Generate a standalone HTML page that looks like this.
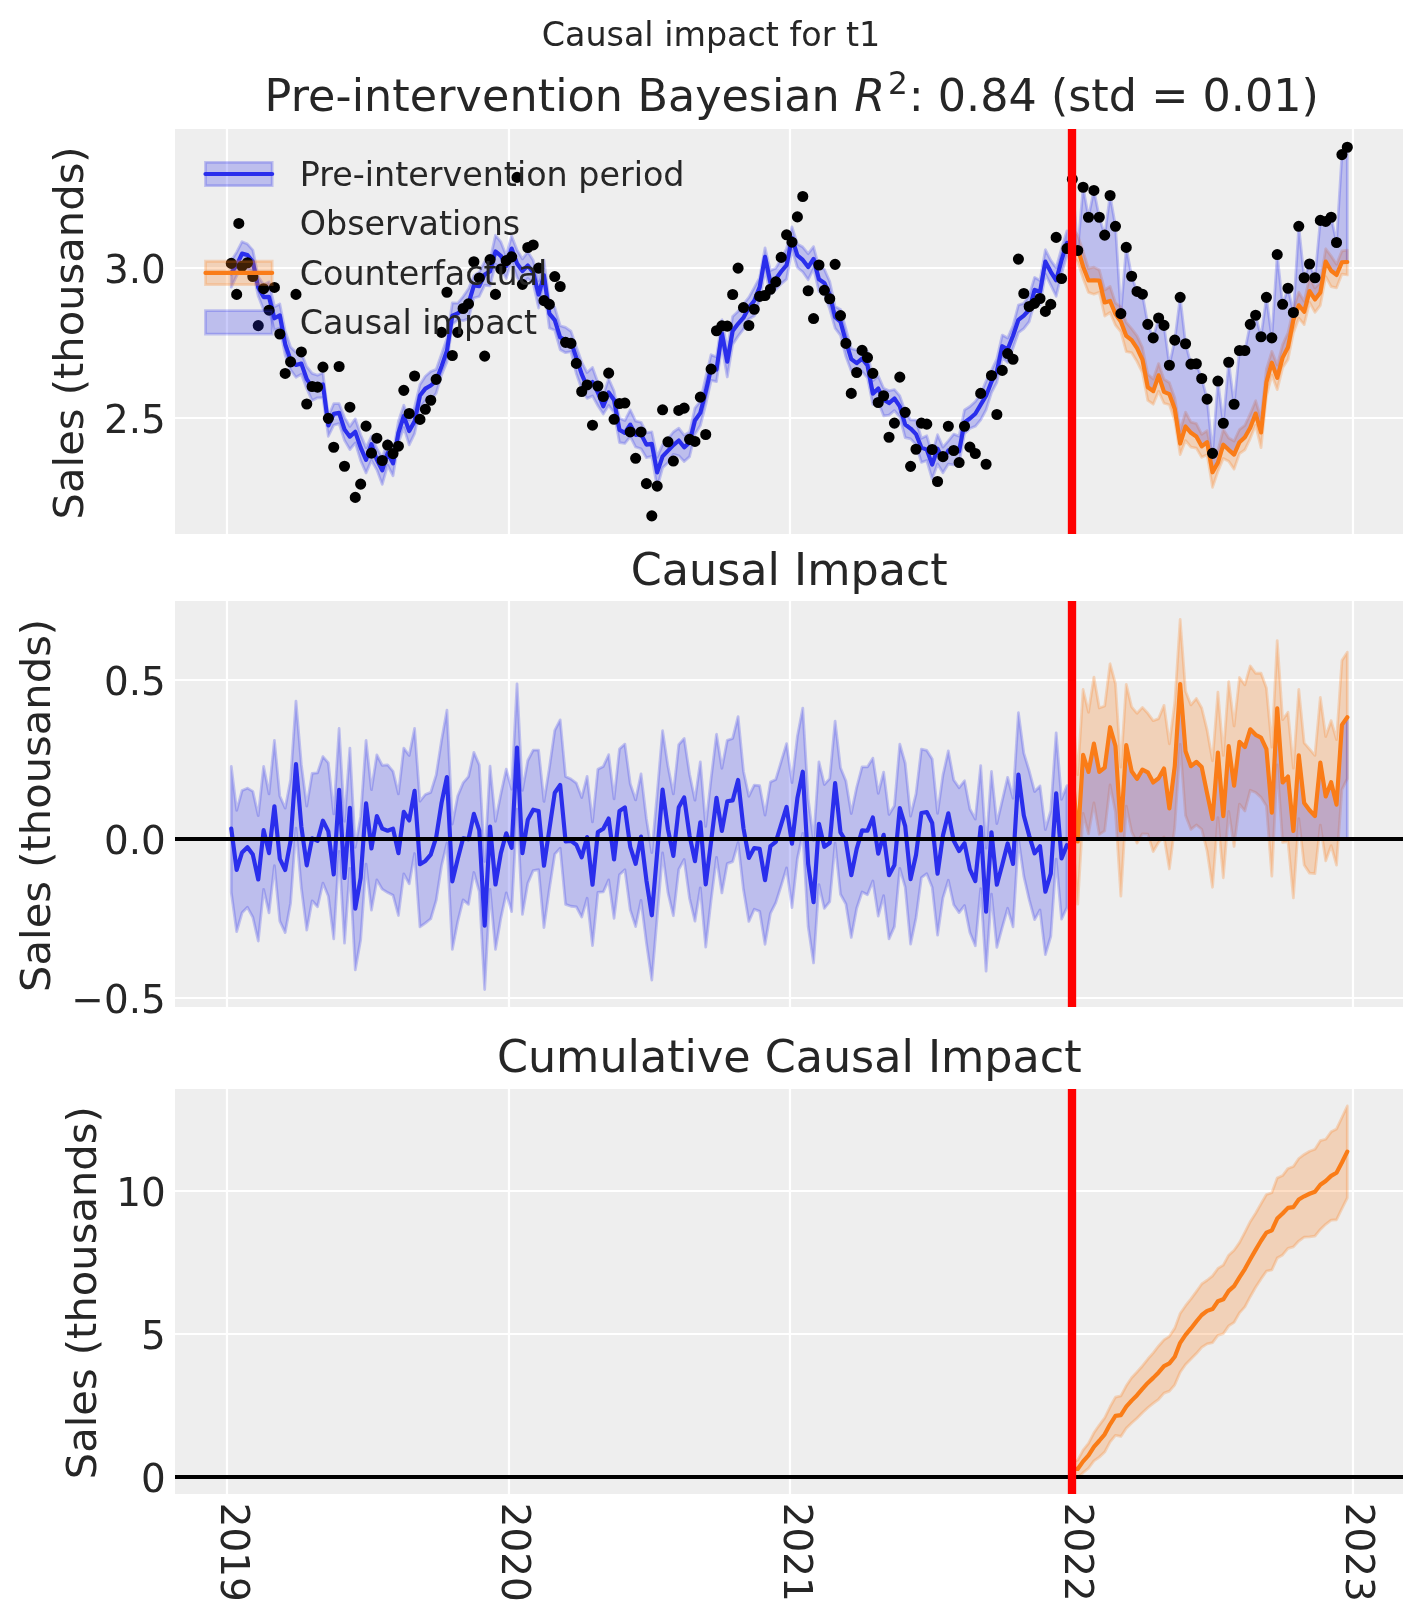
<!DOCTYPE html>
<html lang="en">
<head>
<meta charset="utf-8">
<title>Causal impact for t1</title>
<style>
html,body{margin:0;padding:0;background:#ffffff;}
body{width:1423px;height:1623px;overflow:hidden;font-family:"DejaVu Sans","Liberation Sans",sans-serif;}
svg{display:block;will-change:transform;transform:translateZ(0);}
</style>
</head>
<body>
<svg width="1423" height="1623" viewBox="0 0 512.28 584.28">
 <defs>
  <style type="text/css">svg *{stroke-linejoin: round; stroke-linecap: butt}</style>
 </defs>
 <g id="figure_1">
  <g id="patch_1">
   <path d="M 0 584.28 L 512.28 584.28 L 512.28 0 L 0 0 z" style="fill: #ffffff" />
  </g>
  <g id="axes_1">
   <g id="patch_2">
    <path d="M 63 192.24 L 505.08 192.24 L 505.08 46.44 L 63 46.44 z" style="fill: #eeeeee" />
   </g>
   <g id="matplotlib.axis_1">
    <g id="xtick_1">
     <g id="line2d_1">
      <path d="M 81.72 192.24 L 81.72 46.44" clip-path="url(#pec3af57a32)" style="fill: none; stroke: #ffffff; stroke-width: 0.8; stroke-linecap: round" />
     </g>
     <g id="line2d_2" />
    </g>
    <g id="xtick_2">
     <g id="line2d_3">
      <path d="M 183.24 192.24 L 183.24 46.44" clip-path="url(#pec3af57a32)" style="fill: none; stroke: #ffffff; stroke-width: 0.8; stroke-linecap: round" />
     </g>
     <g id="line2d_4" />
    </g>
    <g id="xtick_3">
     <g id="line2d_5">
      <path d="M 284.4 192.24 L 284.4 46.44" clip-path="url(#pec3af57a32)" style="fill: none; stroke: #ffffff; stroke-width: 0.8; stroke-linecap: round" />
     </g>
     <g id="line2d_6" />
    </g>
    <g id="xtick_4">
     <g id="line2d_7">
      <path d="M 385.92 192.24 L 385.92 46.44" clip-path="url(#pec3af57a32)" style="fill: none; stroke: #ffffff; stroke-width: 0.8; stroke-linecap: round" />
     </g>
     <g id="line2d_8" />
    </g>
    <g id="xtick_5">
     <g id="line2d_9">
      <path d="M 487.08 192.24 L 487.08 46.44" clip-path="url(#pec3af57a32)" style="fill: none; stroke: #ffffff; stroke-width: 0.8; stroke-linecap: round" />
     </g>
     <g id="line2d_10" />
    </g>
   </g>
   <g id="matplotlib.axis_2">
    <g id="ytick_1">
     <g id="line2d_11">
      <path d="M 63.1728 150.48 L 505.116 150.48" clip-path="url(#pec3af57a32)" style="fill: none; stroke: #ffffff; stroke-width: 0.8; stroke-linecap: round" />
     </g>
     <g id="line2d_12" />
     <g id="text_1">
      <text style="font-size: 14px; font-family: 'DejaVu Sans', sans-serif; text-anchor: end; fill: #262626" x="59.6728" y="155.798906">2.5</text>
     </g>
    </g>
    <g id="ytick_2">
     <g id="line2d_13">
      <path d="M 63.1728 96.48 L 505.116 96.48" clip-path="url(#pec3af57a32)" style="fill: none; stroke: #ffffff; stroke-width: 0.8; stroke-linecap: round" />
     </g>
     <g id="line2d_14" />
     <g id="text_2">
      <text style="font-size: 14px; font-family: 'DejaVu Sans', sans-serif; text-anchor: end; fill: #262626" x="59.6728" y="101.798906">3.0</text>
     </g>
    </g>
    <g id="text_3">
     <text style="font-size: 15px; font-family: 'DejaVu Sans', sans-serif; text-anchor: middle; fill: #262626" x="29.893" y="119.844" transform="rotate(-90 29.893 119.844)">Sales (thousands)</text>
    </g>
   </g>
   <g id="FillBetweenPolyCollection_1">
    <g clip-path="url(#pec3af57a32)">
     <path d="M 83.26 -490.44 L 83.26 -480.91 L 85.2 -484.98 L 87.14 -488.48 L 89.08 -487.43 L 91.02 -486.61 L 92.97 -477.68 L 94.91 -472.67 L 96.85 -472.87 L 98.79 -465.36 L 100.73 -466.23 L 102.67 -456.41 L 104.61 -451.1 L 106.55 -448.48 L 108.49 -449.53 L 110.43 -444.34 L 112.37 -440.08 L 114.32 -441.08 L 116.26 -441.12 L 118.2 -427.23 L 120.14 -431.22 L 122.08 -431.8 L 124.02 -425.76 L 125.96 -422.46 L 127.9 -424.84 L 129.84 -418.43 L 131.78 -414.03 L 133.72 -418.55 L 135.67 -415.13 L 137.61 -409.9 L 139.55 -416.79 L 141.49 -412.99 L 143.43 -424.88 L 145.37 -430.32 L 147.31 -424.13 L 149.25 -428.15 L 151.19 -437.33 L 153.13 -440.06 L 155.07 -440.24 L 157.02 -442.69 L 158.96 -449.31 L 160.9 -453.95 L 162.84 -467.45 L 164.78 -469.07 L 166.72 -468.83 L 168.66 -469.59 L 170.6 -477.01 L 172.54 -477.54 L 174.48 -481.59 L 176.42 -481.36 L 178.37 -489.16 L 180.31 -487.67 L 182.25 -484.04 L 184.19 -490.29 L 186.13 -484.39 L 188.07 -481.84 L 190.01 -484.03 L 191.95 -482.32 L 193.89 -473.39 L 195.83 -481.1 L 197.77 -466.19 L 199.72 -465.36 L 201.66 -458.4 L 203.6 -457.32 L 205.54 -457.66 L 207.48 -449.76 L 209.42 -444.13 L 211.36 -440.86 L 213.3 -441.74 L 215.24 -438.21 L 217.18 -435.21 L 219.12 -438.34 L 221.06 -435.81 L 223.01 -424.94 L 224.95 -424.63 L 226.89 -427.1 L 228.83 -423.35 L 230.77 -422.72 L 232.71 -419.51 L 234.65 -419.99 L 236.59 -408.72 L 238.53 -415.85 L 240.47 -417.7 L 242.41 -420.71 L 244.36 -420.19 L 246.3 -418.12 L 248.24 -419.89 L 250.18 -427.94 L 252.12 -431.07 L 254.06 -438.62 L 256 -447.34 L 257.94 -446.88 L 259.88 -459.7 L 261.82 -448.58 L 263.76 -460.3 L 265.71 -463.24 L 267.65 -465.78 L 269.59 -469.46 L 271.53 -470.49 L 273.47 -476.12 L 275.41 -487.3 L 277.35 -478.32 L 279.29 -480.04 L 281.23 -482.08 L 283.17 -483.79 L 285.11 -494.41 L 287.06 -487.99 L 289 -486.35 L 290.94 -483.57 L 292.88 -487.61 L 294.82 -479.37 L 296.76 -478.47 L 298.7 -473.02 L 300.64 -466.13 L 302.58 -463.57 L 304.52 -455.92 L 306.46 -450.67 L 308.41 -449.42 L 310.35 -450.58 L 312.29 -448.27 L 314.23 -438.7 L 316.17 -439.6 L 318.11 -434.58 L 320.05 -434.85 L 321.99 -436.46 L 323.93 -434.15 L 325.87 -426.75 L 327.81 -426.3 L 329.76 -424.23 L 331.7 -417.81 L 333.64 -418.49 L 335.58 -411.82 L 337.52 -417.25 L 339.46 -414.07 L 341.4 -417.22 L 343.34 -416.93 L 345.28 -417.47 L 347.22 -428.13 L 349.16 -429.99 L 351.11 -430.82 L 353.05 -433.11 L 354.99 -436.73 L 356.93 -442.92 L 358.87 -446.66 L 360.81 -455.49 L 362.75 -453.81 L 364.69 -459.03 L 366.63 -464.52 L 368.57 -465.99 L 370.51 -468.47 L 372.46 -475.46 L 374.4 -474.61 L 376.34 -485.63 L 378.28 -481.6 L 380.22 -477.64 L 382.16 -485.72 L 384.1 -492.34 L 384.1 -501.18 L 384.1 -501.18 L 382.16 -494.86 L 380.22 -487.86 L 378.28 -490.56 L 376.34 -494.37 L 374.4 -483.29 L 372.46 -484.44 L 370.51 -477.91 L 368.57 -475.08 L 366.63 -474.48 L 364.69 -467.07 L 362.75 -462.6 L 360.81 -463.65 L 358.87 -455.07 L 356.93 -450.96 L 354.99 -447.07 L 353.05 -442.44 L 351.11 -439.74 L 349.16 -437.93 L 347.22 -436.7 L 345.28 -427.27 L 343.34 -428 L 341.4 -425.58 L 339.46 -423.32 L 337.52 -427.75 L 335.58 -420.97 L 333.64 -427.4 L 331.7 -426.51 L 329.76 -433.06 L 327.81 -433.12 L 325.87 -436.19 L 323.93 -441.74 L 321.99 -444.04 L 320.05 -443.61 L 318.11 -444.5 L 316.17 -448.96 L 314.23 -447.19 L 312.29 -457.89 L 310.35 -459.15 L 308.41 -458.2 L 306.46 -458.79 L 304.52 -465.93 L 302.58 -472.89 L 300.64 -473.96 L 298.7 -482.93 L 296.76 -487.37 L 294.82 -488.09 L 292.88 -495.47 L 290.94 -492.96 L 289 -495.34 L 287.06 -496.44 L 285.11 -502.62 L 283.17 -494.81 L 281.23 -491.14 L 279.29 -487.74 L 277.35 -486.9 L 275.41 -495.03 L 273.47 -484.35 L 271.53 -480.75 L 269.59 -477.21 L 267.65 -474.78 L 265.71 -472.2 L 263.76 -470.34 L 261.82 -458.34 L 259.88 -469.16 L 257.94 -455.73 L 256 -456.6 L 254.06 -448.51 L 252.12 -439.85 L 250.18 -437.37 L 248.24 -428.76 L 246.3 -427.62 L 244.36 -430.13 L 242.41 -428.76 L 240.47 -426.25 L 238.53 -424.21 L 236.59 -419.7 L 234.65 -428.82 L 232.71 -428.48 L 230.77 -432.27 L 228.83 -432.68 L 226.89 -436.74 L 224.95 -432.87 L 223.01 -433.7 L 221.06 -443.48 L 219.12 -447.92 L 217.18 -442 L 215.24 -446.6 L 213.3 -451.98 L 211.36 -450.14 L 209.42 -453.95 L 207.48 -459.5 L 205.54 -465.03 L 203.6 -466.4 L 201.66 -467.01 L 199.72 -473.66 L 197.77 -475.46 L 195.83 -490.59 L 193.89 -483.16 L 191.95 -490.6 L 190.01 -493.61 L 188.07 -491.08 L 186.13 -494.29 L 184.19 -499.36 L 182.25 -492.23 L 180.31 -497.19 L 178.37 -499.56 L 176.42 -490.68 L 174.48 -490.06 L 172.54 -486.34 L 170.6 -485.04 L 168.66 -480.33 L 166.72 -477.53 L 164.78 -475.17 L 162.84 -475.22 L 160.9 -462.57 L 158.96 -456.82 L 157.02 -451.3 L 155.07 -450.56 L 153.13 -448.85 L 151.19 -445.85 L 149.25 -437.78 L 147.31 -433.08 L 145.37 -438.39 L 143.43 -432.63 L 141.49 -420.99 L 139.55 -425.81 L 137.61 -419.44 L 135.67 -422.88 L 133.72 -427.23 L 131.78 -423.13 L 129.84 -427.76 L 127.9 -433.51 L 125.96 -430.77 L 124.02 -434.03 L 122.08 -438.96 L 120.14 -438.96 L 118.2 -434.35 L 116.26 -450.08 L 114.32 -449.17 L 112.37 -449.86 L 110.43 -452.26 L 108.49 -457.3 L 106.55 -457.44 L 104.61 -459.35 L 102.67 -465.17 L 100.73 -474.85 L 98.79 -473.88 L 96.85 -482.77 L 94.91 -481.88 L 92.97 -484.67 L 91.02 -494.25 L 89.08 -496.4 L 87.14 -497.29 L 85.2 -493.51 L 83.26 -490.44 z" transform="translate(0 584.28)" style="fill: #2a2eec; fill-opacity: 0.25; stroke: #2a2eec; stroke-opacity: 0.25" />
    </g>
   </g>
   <g id="FillBetweenPolyCollection_2">
    <g clip-path="url(#pec3af57a32)">
     <path d="M 386.04 -502.13 L 386.04 -492.01 L 387.98 -490.05 L 389.92 -484.03 L 391.86 -479.01 L 393.81 -478.35 L 395.75 -479.03 L 397.69 -470.5 L 399.63 -471.78 L 401.57 -467.2 L 403.51 -464.83 L 405.45 -457.66 L 407.39 -457.32 L 409.33 -454.13 L 411.27 -450.14 L 413.21 -440.12 L 415.16 -438.76 L 417.1 -443.45 L 419.04 -439.1 L 420.98 -438.56 L 422.92 -432.91 L 424.86 -420.64 L 426.8 -425.66 L 428.74 -423.34 L 430.68 -422.95 L 432.62 -419.66 L 434.56 -420.61 L 436.51 -408.82 L 438.45 -414.58 L 440.39 -419.21 L 442.33 -418.24 L 444.27 -415.39 L 446.21 -420.99 L 448.15 -422.35 L 450.09 -426.41 L 452.03 -431.25 L 453.97 -423.16 L 455.91 -441.6 L 457.86 -449.24 L 459.8 -444.03 L 461.74 -451.87 L 463.68 -454.83 L 465.62 -464.38 L 467.56 -469.74 L 469.5 -467.41 L 471.44 -475.41 L 473.38 -471.84 L 475.32 -474.35 L 477.26 -484.71 L 479.21 -481.12 L 481.15 -480.68 L 483.09 -485.61 L 485.03 -485.31 L 485.03 -494.23 L 485.03 -494.23 L 483.09 -493.96 L 481.15 -489.14 L 479.21 -492.08 L 477.26 -494.73 L 475.32 -482.71 L 473.38 -480.58 L 471.44 -484.51 L 469.5 -475.79 L 467.56 -479.04 L 465.62 -473.23 L 463.68 -464.49 L 461.74 -460.24 L 459.8 -452.86 L 457.86 -457.8 L 455.91 -451.38 L 453.97 -433.6 L 452.03 -440 L 450.09 -435.27 L 448.15 -431.15 L 446.21 -429.65 L 444.27 -425.52 L 442.33 -426.6 L 440.39 -429.67 L 438.45 -422.13 L 436.51 -419.4 L 434.56 -429.25 L 432.62 -427.92 L 430.68 -431.79 L 428.74 -432.32 L 426.8 -435.9 L 424.86 -429.25 L 422.92 -441.03 L 420.98 -446.53 L 419.04 -447.73 L 417.1 -453.4 L 415.16 -447.85 L 413.21 -449.54 L 411.27 -459.24 L 409.33 -463.35 L 407.39 -465.95 L 405.45 -468.21 L 403.51 -473.78 L 401.57 -475.23 L 399.63 -481.15 L 397.69 -479.89 L 395.75 -487.08 L 393.81 -488.11 L 391.86 -487.63 L 389.92 -493.81 L 387.98 -499.52 L 386.04 -502.13 z" transform="translate(0 584.28)" style="fill: #fa7c17; fill-opacity: 0.25; stroke: #fa7c17; stroke-opacity: 0.25" />
    </g>
   </g>
   <g id="FillBetweenPolyCollection_3">
    <g clip-path="url(#pec3af57a32)">
     <path d="M 386.04 -519.74 L 386.04 -496.08 L 387.98 -494.93 L 389.92 -488.28 L 391.86 -483.3 L 393.81 -483.34 L 395.75 -483.3 L 397.69 -475.41 L 399.63 -475.94 L 401.57 -471.23 L 403.51 -468.52 L 405.45 -463.35 L 407.39 -461.83 L 409.33 -458.94 L 411.27 -454.81 L 413.21 -444.88 L 415.16 -443.46 L 417.1 -449.16 L 419.04 -443.21 L 420.98 -442.4 L 422.92 -437.04 L 424.86 -424.6 L 426.8 -430.74 L 428.74 -428.46 L 430.68 -427.11 L 432.62 -423.59 L 434.56 -425.1 L 436.51 -414.26 L 438.45 -417.73 L 440.39 -424.18 L 442.33 -422.34 L 444.27 -420.63 L 446.21 -425.09 L 448.15 -426.88 L 450.09 -430.28 L 452.03 -435.4 L 453.97 -428.59 L 455.91 -446.72 L 457.86 -453.7 L 459.8 -448.24 L 461.74 -455.53 L 463.68 -459.29 L 465.62 -469.04 L 467.56 -474.38 L 469.5 -472.04 L 471.44 -479.48 L 473.38 -476.48 L 475.32 -479.01 L 477.26 -490.09 L 479.21 -486.81 L 481.15 -485.29 L 483.09 -489.87 L 485.03 -489.95 L 485.03 -531.28 L 485.03 -531.28 L 483.09 -528.62 L 481.15 -496.97 L 479.21 -506.08 L 477.26 -504.56 L 475.32 -504.94 L 473.38 -484.29 L 471.44 -489.23 L 469.5 -484.29 L 467.56 -502.81 L 465.62 -471.77 L 463.68 -480.5 L 461.74 -474.73 L 459.8 -492.64 L 457.86 -462.66 L 455.91 -477.24 L 453.97 -463.04 L 452.03 -470.78 L 450.09 -467.52 L 448.15 -458.11 L 446.21 -458.11 L 444.27 -438.75 L 442.33 -453.86 L 440.39 -431.92 L 438.45 -447.1 L 436.51 -421.07 L 434.56 -440.58 L 432.62 -448.01 L 430.68 -453.33 L 428.74 -453.18 L 426.8 -460.54 L 424.86 -477.24 L 422.92 -461.83 L 420.98 -452.8 L 419.04 -467.14 L 417.1 -469.8 L 415.16 -462.66 L 413.21 -467.52 L 411.27 -478.37 L 409.33 -479.36 L 407.39 -484.83 L 405.45 -495.22 L 403.51 -471.39 L 401.57 -502.81 L 399.63 -513.9 L 397.69 -499.63 L 395.75 -506.08 L 393.81 -515.72 L 391.86 -506.08 L 389.92 -516.86 L 387.98 -494.09 L 386.04 -519.74 z" transform="translate(0 584.28)" style="fill: #2a2eec; fill-opacity: 0.25; stroke: #2a2eec; stroke-opacity: 0.25" />
    </g>
   </g>
   <g id="line2d_15">
    <path d="M 83.26 98.34 L 85.2 95.46 L 87.14 91.31 L 89.08 91.81 L 91.02 94.24 L 92.97 103.47 L 94.91 106.94 L 96.85 106.88 L 98.79 114.58 L 100.73 113.52 L 102.67 123.92 L 104.61 129.66 L 106.55 131.41 L 108.49 130.88 L 110.43 136.5 L 112.37 139.37 L 114.32 138.74 L 116.26 138.4 L 118.2 153.19 L 120.14 148.98 L 122.08 148.63 L 124.02 154.6 L 125.96 157.19 L 127.9 155.45 L 129.84 161.12 L 131.78 165.53 L 133.72 159.92 L 135.67 165.56 L 137.61 169.3 L 139.55 163.05 L 141.49 166.8 L 143.43 155.84 L 145.37 149.76 L 147.31 155.17 L 149.25 151.69 L 151.19 142.4 L 153.13 139.9 L 155.07 138.79 L 157.02 137.1 L 158.96 131.89 L 160.9 126.28 L 162.84 113.6 L 164.78 112.81 L 166.72 111.29 L 168.66 109.33 L 170.6 102.74 L 172.54 103 L 174.48 98.8 L 176.42 97.69 L 178.37 90.52 L 180.31 92.08 L 182.25 95.77 L 184.19 89.47 L 186.13 94.87 L 188.07 97.58 L 190.01 95.61 L 191.95 98.13 L 193.89 106.05 L 195.83 99.13 L 197.77 112.88 L 199.72 115.25 L 201.66 121.46 L 203.6 122.46 L 205.54 122.98 L 209.42 134.7 L 211.36 139.22 L 213.3 137.54 L 215.24 141.32 L 217.18 146.26 L 219.12 141.28 L 221.06 144.01 L 223.01 154.78 L 224.95 155.85 L 226.89 152.86 L 228.83 156.54 L 230.77 156.29 L 232.71 160.06 L 234.65 159.79 L 236.59 170.07 L 238.53 164.29 L 242.41 160.25 L 244.36 158.58 L 246.3 161.04 L 248.24 159.3 L 250.18 151.4 L 252.12 148.64 L 254.06 141.02 L 256 132.6 L 257.94 133.04 L 259.88 120.05 L 261.82 130.22 L 263.76 119.12 L 265.71 116.58 L 267.65 114.38 L 269.59 110.73 L 271.53 108.25 L 273.47 103.34 L 275.41 92.43 L 277.35 101.69 L 279.29 100.46 L 281.23 97.74 L 283.17 95.42 L 285.11 85.62 L 287.06 91.94 L 289 93.58 L 290.94 96.14 L 292.88 93.2 L 294.82 100.56 L 296.76 101.86 L 298.7 106.19 L 300.64 114.15 L 302.58 115.84 L 304.52 122.88 L 306.46 129.31 L 308.41 130.75 L 310.35 129.08 L 312.29 131.52 L 314.23 141.72 L 316.17 139.88 L 318.11 143.89 L 320.05 145.1 L 321.99 143.45 L 323.93 146.31 L 325.87 152.83 L 327.81 154.28 L 329.76 156.27 L 331.7 161.14 L 333.64 161.87 L 335.58 167.26 L 337.52 161.54 L 339.46 165.54 L 341.4 162.2 L 343.34 161.58 L 345.28 162.44 L 347.22 152.04 L 349.16 150.67 L 351.11 148.94 L 354.99 142.43 L 356.93 137.47 L 358.87 133.68 L 360.81 124.62 L 362.75 125.78 L 364.69 120.88 L 366.63 115.12 L 368.57 113.6 L 370.51 111.5 L 372.46 104.35 L 374.4 105.04 L 376.34 94.2 L 378.28 97.85 L 380.22 100.93 L 382.16 93.67 L 384.1 87.41 L 384.1 87.41" clip-path="url(#pec3af57a32)" style="fill: none; stroke: #2a2eec; stroke-width: 1.5; stroke-linecap: round" />
   </g>
   <g id="line2d_16">
    <g clip-path="url(#pec3af57a32)" style="fill:#000;stroke:#000;stroke-width:1">
     <circle cx="83.26" cy="94.82" r="1.5" />
     <circle cx="85.2" cy="105.98" r="1.5" />
     <circle cx="87.14" cy="95.89" r="1.5" />
     <circle cx="89.08" cy="94.6" r="1.5" />
     <circle cx="91.02" cy="99.53" r="1.5" />
     <circle cx="92.97" cy="117.22" r="1.5" />
     <circle cx="94.91" cy="103.93" r="1.5" />
     <circle cx="96.85" cy="111.67" r="1.5" />
     <circle cx="98.79" cy="103.48" r="1.5" />
     <circle cx="100.73" cy="120.25" r="1.5" />
     <circle cx="102.67" cy="134.44" r="1.5" />
     <circle cx="104.61" cy="130.27" r="1.5" />
     <circle cx="106.55" cy="105.98" r="1.5" />
     <circle cx="108.49" cy="126.7" r="1.5" />
     <circle cx="110.43" cy="145.45" r="1.5" />
     <circle cx="112.37" cy="139.15" r="1.5" />
     <circle cx="114.32" cy="139.38" r="1.5" />
     <circle cx="116.26" cy="132.17" r="1.5" />
     <circle cx="118.2" cy="150.61" r="1.5" />
     <circle cx="120.14" cy="161.01" r="1.5" />
     <circle cx="122.08" cy="131.94" r="1.5" />
     <circle cx="124.02" cy="167.84" r="1.5" />
     <circle cx="125.96" cy="146.59" r="1.5" />
     <circle cx="127.9" cy="179.07" r="1.5" />
     <circle cx="129.84" cy="174.29" r="1.5" />
     <circle cx="131.78" cy="153.42" r="1.5" />
     <circle cx="133.72" cy="163.14" r="1.5" />
     <circle cx="135.67" cy="157.75" r="1.5" />
     <circle cx="137.61" cy="165.79" r="1.5" />
     <circle cx="139.55" cy="160.25" r="1.5" />
     <circle cx="141.49" cy="163.29" r="1.5" />
     <circle cx="143.43" cy="160.63" r="1.5" />
     <circle cx="145.37" cy="140.52" r="1.5" />
     <circle cx="147.31" cy="148.87" r="1.5" />
     <circle cx="149.25" cy="135.36" r="1.5" />
     <circle cx="151.19" cy="150.99" r="1.5" />
     <circle cx="153.13" cy="147.35" r="1.5" />
     <circle cx="155.07" cy="144.08" r="1.5" />
     <circle cx="157.02" cy="136.57" r="1.5" />
     <circle cx="158.96" cy="119.64" r="1.5" />
     <circle cx="160.9" cy="105.22" r="1.5" />
     <circle cx="162.84" cy="127.99" r="1.5" />
     <circle cx="164.78" cy="119.64" r="1.5" />
     <circle cx="166.72" cy="111.07" r="1.5" />
     <circle cx="168.66" cy="109.4" r="1.5" />
     <circle cx="170.6" cy="94.22" r="1.5" />
     <circle cx="172.54" cy="100.06" r="1.5" />
     <circle cx="174.48" cy="128.22" r="1.5" />
     <circle cx="176.42" cy="93.46" r="1.5" />
     <circle cx="178.37" cy="105.98" r="1.5" />
     <circle cx="180.31" cy="96.87" r="1.5" />
     <circle cx="182.25" cy="93.84" r="1.5" />
     <circle cx="184.19" cy="92.47" r="1.5" />
     <circle cx="186.13" cy="63.86" r="1.5" />
     <circle cx="188.07" cy="102.37" r="1.5" />
     <circle cx="190.01" cy="89.09" r="1.5" />
     <circle cx="191.95" cy="88.18" r="1.5" />
     <circle cx="193.89" cy="96.53" r="1.5" />
     <circle cx="195.83" cy="108.22" r="1.5" />
     <circle cx="197.77" cy="109.58" r="1.5" />
     <circle cx="199.72" cy="99.56" r="1.5" />
     <circle cx="201.66" cy="103.13" r="1.5" />
     <circle cx="203.6" cy="123.24" r="1.5" />
     <circle cx="205.54" cy="123.62" r="1.5" />
     <circle cx="207.48" cy="130.83" r="1.5" />
     <circle cx="209.42" cy="140.93" r="1.5" />
     <circle cx="211.36" cy="138.58" r="1.5" />
     <circle cx="213.3" cy="153.07" r="1.5" />
     <circle cx="215.24" cy="138.96" r="1.5" />
     <circle cx="217.18" cy="142.75" r="1.5" />
     <circle cx="219.12" cy="134.33" r="1.5" />
     <circle cx="221.06" cy="150.95" r="1.5" />
     <circle cx="223.01" cy="145.26" r="1.5" />
     <circle cx="224.95" cy="145.1" r="1.5" />
     <circle cx="226.89" cy="155.5" r="1.5" />
     <circle cx="228.83" cy="164.99" r="1.5" />
     <circle cx="230.77" cy="155.5" r="1.5" />
     <circle cx="232.71" cy="174.1" r="1.5" />
     <circle cx="234.65" cy="185.71" r="1.5" />
     <circle cx="236.59" cy="175.01" r="1.5" />
     <circle cx="238.53" cy="147.53" r="1.5" />
     <circle cx="240.47" cy="159.07" r="1.5" />
     <circle cx="242.41" cy="165.98" r="1.5" />
     <circle cx="244.36" cy="147.76" r="1.5" />
     <circle cx="246.3" cy="146.93" r="1.5" />
     <circle cx="248.24" cy="158.16" r="1.5" />
     <circle cx="250.18" cy="158.92" r="1.5" />
     <circle cx="252.12" cy="142.98" r="1.5" />
     <circle cx="254.06" cy="156.41" r="1.5" />
     <circle cx="256" cy="132.88" r="1.5" />
     <circle cx="257.94" cy="119.07" r="1.5" />
     <circle cx="259.88" cy="117.32" r="1.5" />
     <circle cx="261.82" cy="117.4" r="1.5" />
     <circle cx="263.76" cy="106.01" r="1.5" />
     <circle cx="265.71" cy="96.53" r="1.5" />
     <circle cx="267.65" cy="110.72" r="1.5" />
     <circle cx="269.59" cy="117.17" r="1.5" />
     <circle cx="271.53" cy="111.33" r="1.5" />
     <circle cx="273.47" cy="106.7" r="1.5" />
     <circle cx="275.41" cy="106.39" r="1.5" />
     <circle cx="277.35" cy="104.12" r="1.5" />
     <circle cx="279.29" cy="101.46" r="1.5" />
     <circle cx="281.23" cy="92.66" r="1.5" />
     <circle cx="283.17" cy="84.53" r="1.5" />
     <circle cx="285.11" cy="87.19" r="1.5" />
     <circle cx="287.06" cy="78.08" r="1.5" />
     <circle cx="289" cy="70.73" r="1.5" />
     <circle cx="290.94" cy="104.66" r="1.5" />
     <circle cx="292.88" cy="114.68" r="1.5" />
     <circle cx="294.82" cy="95.4" r="1.5" />
     <circle cx="296.76" cy="104.51" r="1.5" />
     <circle cx="298.7" cy="107.54" r="1.5" />
     <circle cx="300.64" cy="95.17" r="1.5" />
     <circle cx="302.58" cy="113.62" r="1.5" />
     <circle cx="304.52" cy="123.63" r="1.5" />
     <circle cx="306.46" cy="141.62" r="1.5" />
     <circle cx="308.41" cy="134.11" r="1.5" />
     <circle cx="310.35" cy="126.14" r="1.5" />
     <circle cx="312.29" cy="128.72" r="1.5" />
     <circle cx="314.23" cy="134.41" r="1.5" />
     <circle cx="316.17" cy="144.89" r="1.5" />
     <circle cx="318.11" cy="142.46" r="1.5" />
     <circle cx="320.05" cy="157.41" r="1.5" />
     <circle cx="321.99" cy="152.32" r="1.5" />
     <circle cx="323.93" cy="135.78" r="1.5" />
     <circle cx="325.87" cy="148.45" r="1.5" />
     <circle cx="327.81" cy="167.88" r="1.5" />
     <circle cx="329.76" cy="161.74" r="1.5" />
     <circle cx="331.7" cy="152.32" r="1.5" />
     <circle cx="333.64" cy="152.7" r="1.5" />
     <circle cx="335.58" cy="161.81" r="1.5" />
     <circle cx="337.52" cy="173.35" r="1.5" />
     <circle cx="339.46" cy="164.39" r="1.5" />
     <circle cx="341.4" cy="153.46" r="1.5" />
     <circle cx="343.34" cy="162.19" r="1.5" />
     <circle cx="345.28" cy="166.52" r="1.5" />
     <circle cx="347.22" cy="153.46" r="1.5" />
     <circle cx="349.16" cy="160.98" r="1.5" />
     <circle cx="351.11" cy="163.25" r="1.5" />
     <circle cx="353.05" cy="141.62" r="1.5" />
     <circle cx="354.99" cy="167.13" r="1.5" />
     <circle cx="356.93" cy="135.17" r="1.5" />
     <circle cx="358.87" cy="149.21" r="1.5" />
     <circle cx="360.81" cy="133.35" r="1.5" />
     <circle cx="362.75" cy="127.28" r="1.5" />
     <circle cx="364.69" cy="129.33" r="1.5" />
     <circle cx="366.63" cy="93.27" r="1.5" />
     <circle cx="368.57" cy="105.65" r="1.5" />
     <circle cx="370.51" cy="110.35" r="1.5" />
     <circle cx="372.46" cy="109.21" r="1.5" />
     <circle cx="374.4" cy="107.47" r="1.5" />
     <circle cx="376.34" cy="112.1" r="1.5" />
     <circle cx="378.28" cy="109.59" r="1.5" />
     <circle cx="380.22" cy="85.46" r="1.5" />
     <circle cx="382.16" cy="100.26" r="1.5" />
     <circle cx="384.1" cy="89.48" r="1.5" />
    </g>
   </g>
   <g id="line2d_17">
    <path d="M 386.04 88.2 L 387.98 89.35 L 389.92 96 L 391.86 100.98 L 393.81 100.94 L 395.75 100.98 L 397.69 108.87 L 399.63 108.34 L 401.57 113.05 L 403.51 115.76 L 405.45 120.93 L 407.39 122.45 L 409.33 125.34 L 411.27 129.47 L 413.21 139.4 L 415.16 140.82 L 417.1 135.12 L 419.04 141.07 L 420.98 141.88 L 422.92 147.24 L 424.86 159.68 L 426.8 153.54 L 428.74 155.82 L 430.68 157.17 L 432.62 160.69 L 434.56 159.18 L 436.51 170.02 L 438.45 166.55 L 440.39 160.1 L 442.33 161.94 L 444.27 163.65 L 446.21 159.19 L 448.15 157.4 L 450.09 154 L 452.03 148.88 L 453.97 155.69 L 455.91 137.56 L 457.86 130.58 L 459.8 136.04 L 461.74 128.75 L 463.68 124.99 L 465.62 115.24 L 467.56 109.9 L 469.5 112.24 L 471.44 104.8 L 473.38 107.8 L 475.32 105.27 L 477.26 94.19 L 479.21 97.47 L 481.15 98.99 L 483.09 94.41 L 485.03 94.33" clip-path="url(#pec3af57a32)" style="fill: none; stroke: #fa7c17; stroke-width: 1.5; stroke-linecap: round" />
   </g>
   <g id="line2d_18">
    <g clip-path="url(#pec3af57a32)" style="fill:#000;stroke:#000;stroke-width:1">
     <circle cx="386.04" cy="64.54" r="1.5" />
     <circle cx="387.98" cy="90.19" r="1.5" />
     <circle cx="389.92" cy="67.42" r="1.5" />
     <circle cx="391.86" cy="78.2" r="1.5" />
     <circle cx="393.81" cy="68.56" r="1.5" />
     <circle cx="395.75" cy="78.2" r="1.5" />
     <circle cx="397.69" cy="84.65" r="1.5" />
     <circle cx="399.63" cy="70.38" r="1.5" />
     <circle cx="401.57" cy="81.47" r="1.5" />
     <circle cx="403.51" cy="112.89" r="1.5" />
     <circle cx="405.45" cy="89.06" r="1.5" />
     <circle cx="407.39" cy="99.45" r="1.5" />
     <circle cx="409.33" cy="104.92" r="1.5" />
     <circle cx="411.27" cy="105.91" r="1.5" />
     <circle cx="413.21" cy="116.76" r="1.5" />
     <circle cx="415.16" cy="121.62" r="1.5" />
     <circle cx="417.1" cy="114.48" r="1.5" />
     <circle cx="419.04" cy="117.14" r="1.5" />
     <circle cx="420.98" cy="131.48" r="1.5" />
     <circle cx="422.92" cy="122.45" r="1.5" />
     <circle cx="424.86" cy="107.04" r="1.5" />
     <circle cx="426.8" cy="123.74" r="1.5" />
     <circle cx="428.74" cy="131.1" r="1.5" />
     <circle cx="430.68" cy="130.95" r="1.5" />
     <circle cx="432.62" cy="136.27" r="1.5" />
     <circle cx="434.56" cy="143.7" r="1.5" />
     <circle cx="436.51" cy="163.21" r="1.5" />
     <circle cx="438.45" cy="137.18" r="1.5" />
     <circle cx="440.39" cy="152.36" r="1.5" />
     <circle cx="442.33" cy="130.42" r="1.5" />
     <circle cx="444.27" cy="145.53" r="1.5" />
     <circle cx="446.21" cy="126.17" r="1.5" />
     <circle cx="448.15" cy="126.17" r="1.5" />
     <circle cx="450.09" cy="116.76" r="1.5" />
     <circle cx="452.03" cy="113.5" r="1.5" />
     <circle cx="453.97" cy="121.24" r="1.5" />
     <circle cx="455.91" cy="107.04" r="1.5" />
     <circle cx="457.86" cy="121.62" r="1.5" />
     <circle cx="459.8" cy="91.64" r="1.5" />
     <circle cx="461.74" cy="109.55" r="1.5" />
     <circle cx="463.68" cy="103.78" r="1.5" />
     <circle cx="465.62" cy="112.51" r="1.5" />
     <circle cx="467.56" cy="81.47" r="1.5" />
     <circle cx="469.5" cy="99.99" r="1.5" />
     <circle cx="471.44" cy="95.05" r="1.5" />
     <circle cx="473.38" cy="99.99" r="1.5" />
     <circle cx="475.32" cy="79.34" r="1.5" />
     <circle cx="477.26" cy="79.72" r="1.5" />
     <circle cx="479.21" cy="78.2" r="1.5" />
     <circle cx="481.15" cy="87.31" r="1.5" />
     <circle cx="483.09" cy="55.66" r="1.5" />
     <circle cx="485.03" cy="53" r="1.5" />
    </g>
   </g>
   <g id="line2d_19">
    <path d="M 385.92 192.24 L 385.92 46.44" clip-path="url(#pec3af57a32)" style="fill: none; stroke: #ff0000; stroke-width: 3; stroke-linecap: round" />
   </g>
   <g id="patch_3">
    <path d="M 63.1728 192.24 L 63.1728 46.44" style="fill: none" />
   </g>
   <g id="patch_4">
    <path d="M 505.116 192.24 L 505.116 46.44" style="fill: none" />
   </g>
   <g id="patch_5">
    <path d="M 63.1728 192.24 L 505.116 192.24" style="fill: none" />
   </g>
   <g id="patch_6">
    <path d="M 63.1728 46.44 L 505.116 46.44" style="fill: none" />
   </g>
   <g id="text_4">
    <text x="95.26" y="39.88" style="font-size: 16px; font-family: 'DejaVu Sans', sans-serif; text-anchor: start; fill: #262626"><tspan style="letter-spacing: 0.03px">Pre-intervention </tspan><tspan x="229.5">Bayesian </tspan><tspan x="307.55" style="font-style: oblique">R</tspan><tspan x="319.64" y="33.75" style="font-size: 11.2px">2</tspan><tspan x="327.14" y="39.88">: 0.84 (std = 0.01)</tspan></text></g>
   <g id="legend_1">
    <g id="line2d_20" transform="translate(0 0.468)">
     <path d="M 73.9728 62.158125 L 85.9728 62.158125 L 97.9728 62.158125" style="fill: none; stroke: #2a2eec; stroke-width: 1.5; stroke-linecap: round" />
    </g>
    <g id="patch_7" transform="translate(0 0.468)">
     <path d="M 73.9728 66.358125 L 97.9728 66.358125 L 97.9728 57.958125 L 73.9728 57.958125 z" style="fill: #2a2eec; fill-opacity: 0.25; stroke: #2a2eec; stroke-opacity: 0.25; stroke-linejoin: miter" />
    </g>
    <g id="text_5" transform="translate(0.36 0.468)">
     <text style="font-size: 12px; font-family: 'DejaVu Sans', sans-serif; text-anchor: start; fill: #262626" x="107.5728" y="66.358125">Pre-intervention period</text>
    </g>
    <g id="line2d_21" transform="translate(0 0.666)">
     <g style="fill:#000;stroke:#000;stroke-width:1">
      <circle cx="85.97" cy="79.77" r="1.5" />
     </g>
    </g>
    <g id="text_6" transform="translate(0.36 0.666)">
     <text style="font-size: 12px; font-family: 'DejaVu Sans', sans-serif; text-anchor: start; fill: #262626" x="107.5728" y="83.971875">Observations</text>
    </g>
    <g id="line2d_22" transform="translate(0 0.864)">
     <path d="M 73.9728 97.385625 L 85.9728 97.385625 L 97.9728 97.385625" style="fill: none; stroke: #fa7c17; stroke-width: 1.5; stroke-linecap: round" />
    </g>
    <g id="patch_8" transform="translate(0 0.864)">
     <path d="M 73.9728 101.585625 L 97.9728 101.585625 L 97.9728 93.185625 L 73.9728 93.185625 z" style="fill: #fa7c17; fill-opacity: 0.25; stroke: #fa7c17; stroke-opacity: 0.25; stroke-linejoin: miter" />
    </g>
    <g id="text_7" transform="translate(0.36 0.864)">
     <text style="font-size: 12px; font-family: 'DejaVu Sans', sans-serif; text-anchor: start; fill: #262626" x="107.5728" y="101.585625">Counterfactual</text>
    </g>
    <g id="patch_9" transform="translate(0 1.062)">
     <path d="M 73.9728 119.199375 L 97.9728 119.199375 L 97.9728 110.799375 L 73.9728 110.799375 z" style="fill: #2a2eec; fill-opacity: 0.25; stroke: #2a2eec; stroke-opacity: 0.25; stroke-linejoin: miter" />
    </g>
    <g id="text_8" transform="translate(0.36 1.062)">
     <text style="font-size: 12px; font-family: 'DejaVu Sans', sans-serif; text-anchor: start; fill: #262626" x="107.5728" y="119.199375">Causal impact</text>
    </g>
   </g>
  </g>
  <g id="axes_2">
   <g id="patch_10">
    <path d="M 63 362.52 L 505.08 362.52 L 505.08 216.36 L 63 216.36 z" style="fill: #eeeeee" />
   </g>
   <g id="matplotlib.axis_3">
    <g id="xtick_6">
     <g id="line2d_23">
      <path d="M 81.72 362.448 L 81.72 216.432" clip-path="url(#p5c142148cd)" style="fill: none; stroke: #ffffff; stroke-width: 0.8; stroke-linecap: round" />
     </g>
     <g id="line2d_24" />
    </g>
    <g id="xtick_7">
     <g id="line2d_25">
      <path d="M 183.24 362.448 L 183.24 216.432" clip-path="url(#p5c142148cd)" style="fill: none; stroke: #ffffff; stroke-width: 0.8; stroke-linecap: round" />
     </g>
     <g id="line2d_26" />
    </g>
    <g id="xtick_8">
     <g id="line2d_27">
      <path d="M 284.4 362.448 L 284.4 216.432" clip-path="url(#p5c142148cd)" style="fill: none; stroke: #ffffff; stroke-width: 0.8; stroke-linecap: round" />
     </g>
     <g id="line2d_28" />
    </g>
    <g id="xtick_9">
     <g id="line2d_29">
      <path d="M 385.92 362.448 L 385.92 216.432" clip-path="url(#p5c142148cd)" style="fill: none; stroke: #ffffff; stroke-width: 0.8; stroke-linecap: round" />
     </g>
     <g id="line2d_30" />
    </g>
    <g id="xtick_10">
     <g id="line2d_31">
      <path d="M 487.08 362.448 L 487.08 216.432" clip-path="url(#p5c142148cd)" style="fill: none; stroke: #ffffff; stroke-width: 0.8; stroke-linecap: round" />
     </g>
     <g id="line2d_32" />
    </g>
   </g>
   <g id="matplotlib.axis_4">
    <g id="ytick_3">
     <g id="line2d_33">
      <path d="M 63.1728 359.28 L 505.116 359.28" clip-path="url(#p5c142148cd)" style="fill: none; stroke: #ffffff; stroke-width: 0.8; stroke-linecap: round" />
     </g>
     <g id="line2d_34" />
     <g id="text_9">
      <text style="font-size: 14px; font-family: 'DejaVu Sans', sans-serif; text-anchor: end; fill: #262626" x="59.6728" y="364.598906">−0.5</text>
     </g>
    </g>
    <g id="ytick_4">
     <g id="line2d_35">
      <path d="M 63.1728 302.04 L 505.116 302.04" clip-path="url(#p5c142148cd)" style="fill: none; stroke: #ffffff; stroke-width: 0.8; stroke-linecap: round" />
     </g>
     <g id="line2d_36" />
     <g id="text_10">
      <text style="font-size: 14px; font-family: 'DejaVu Sans', sans-serif; text-anchor: end; fill: #262626" x="59.6728" y="307.358906">0.0</text>
     </g>
    </g>
    <g id="ytick_5">
     <g id="line2d_37">
      <path d="M 63.1728 244.8 L 505.116 244.8" clip-path="url(#p5c142148cd)" style="fill: none; stroke: #ffffff; stroke-width: 0.8; stroke-linecap: round" />
     </g>
     <g id="line2d_38" />
     <g id="text_11">
      <text style="font-size: 14px; font-family: 'DejaVu Sans', sans-serif; text-anchor: end; fill: #262626" x="59.6728" y="250.118906">0.5</text>
     </g>
    </g>
    <g id="text_12">
     <text style="font-size: 15px; font-family: 'DejaVu Sans', sans-serif; text-anchor: middle; fill: #262626" x="18.161" y="289.944" transform="rotate(-90 18.161 289.944)">Sales (thousands)</text>
    </g>
   </g>
   <g id="FillBetweenPolyCollection_4">
    <g clip-path="url(#p5c142148cd)">
     <path d="M 83.26 -308.35 L 83.26 -262.97 L 85.2 -248.92 L 87.14 -255.67 L 89.08 -257.65 L 91.02 -254.08 L 92.97 -245.51 L 94.91 -264.1 L 96.85 -255.64 L 98.79 -272.68 L 100.73 -252.68 L 102.67 -248.54 L 104.61 -259.14 L 106.55 -286.11 L 108.49 -264.56 L 110.43 -249.45 L 112.37 -259.99 L 114.32 -257.87 L 116.26 -266.38 L 118.2 -261.62 L 120.14 -246.27 L 122.08 -277.77 L 124.02 -244.75 L 125.96 -271.69 L 127.9 -235.11 L 129.84 -245.97 L 131.78 -273.21 L 133.72 -256.61 L 135.67 -267.52 L 137.61 -264.17 L 139.55 -262.95 L 141.49 -261.99 L 143.43 -254.7 L 145.37 -269.69 L 147.31 -266.08 L 149.25 -277.01 L 151.19 -250.59 L 153.13 -251.98 L 155.07 -253.53 L 157.02 -260.13 L 158.96 -272.64 L 160.9 -280.8 L 162.84 -242.47 L 164.78 -252.45 L 166.72 -260.32 L 168.66 -258.7 L 170.6 -270.18 L 172.54 -263.29 L 174.48 -228.05 L 176.42 -264.1 L 178.37 -242.47 L 180.31 -253.75 L 182.25 -262.81 L 184.19 -256.07 L 186.13 -292.95 L 188.07 -255.09 L 190.01 -266.3 L 191.95 -270.89 L 193.89 -271.18 L 195.83 -250.34 L 197.77 -264.21 L 199.72 -276.79 L 201.66 -278.93 L 203.6 -258.71 L 205.54 -258.03 L 207.48 -257.82 L 209.42 -254.13 L 211.36 -260.92 L 213.3 -243.87 L 215.24 -263.04 L 217.18 -263.18 L 219.12 -267.52 L 221.06 -253.66 L 223.01 -269.39 L 224.95 -271.2 L 226.89 -256.7 L 228.83 -250.72 L 230.77 -260.17 L 232.71 -244.83 L 234.65 -231.47 L 236.59 -254.23 L 238.53 -277.25 L 240.47 -262.93 L 242.41 -254.62 L 244.36 -271.31 L 246.3 -274.86 L 248.24 -260.81 L 250.18 -252.65 L 252.12 -264.68 L 254.06 -243.36 L 256 -260.23 L 257.94 -275.65 L 259.88 -262.81 L 261.82 -273.39 L 263.76 -274.1 L 265.71 -280.94 L 267.65 -264.03 L 269.59 -252.56 L 271.53 -256.95 L 273.47 -256.2 L 275.41 -244.31 L 277.35 -255.5 L 279.29 -259.33 L 281.23 -265.43 L 283.17 -271.83 L 285.11 -257.57 L 287.06 -275.17 L 289 -284.27 L 290.94 -250.73 L 292.88 -237.61 L 294.82 -265.83 L 296.76 -257.24 L 298.7 -259.66 L 300.64 -280.79 L 302.58 -262.36 L 304.52 -258.84 L 306.46 -246.81 L 308.41 -257.33 L 310.35 -263.16 L 312.29 -262.19 L 314.23 -267.13 L 316.17 -254.48 L 318.11 -261.84 L 320.05 -246.28 L 321.99 -250.71 L 323.93 -271.66 L 325.87 -264.89 L 327.81 -244.38 L 329.76 -253.8 L 331.7 -268.33 L 333.64 -269.77 L 335.58 -264.9 L 337.52 -247.61 L 339.46 -261.06 L 341.4 -267.39 L 343.34 -258.6 L 345.28 -255.74 L 347.22 -258.28 L 349.16 -248.6 L 351.11 -243.78 L 353.05 -264.39 L 354.99 -234.69 L 356.93 -262.35 L 358.87 -243.26 L 360.81 -250.41 L 362.75 -257.3 L 364.69 -250.58 L 366.63 -282.37 L 368.57 -268.88 L 370.51 -260.4 L 372.46 -253.22 L 374.4 -256.66 L 376.34 -240.6 L 378.28 -247.2 L 380.22 -274.98 L 382.16 -253.36 L 384.1 -257.61 L 384.1 -301.43 L 384.1 -301.43 L 382.16 -296.51 L 380.22 -320.42 L 378.28 -292.41 L 376.34 -285.66 L 374.4 -301.35 L 372.46 -299.32 L 370.51 -306.77 L 368.57 -313.13 L 366.63 -327.75 L 364.69 -296.9 L 362.75 -304.42 L 360.81 -296.09 L 358.87 -287.81 L 356.93 -306.58 L 354.99 -278.97 L 353.05 -308.66 L 351.11 -289.43 L 349.16 -293.04 L 347.22 -303.21 L 345.28 -300.68 L 343.34 -303.46 L 341.4 -313.96 L 339.46 -305.22 L 337.52 -291.45 L 335.58 -311.04 L 333.64 -314.12 L 331.7 -314.57 L 329.76 -298.46 L 327.81 -290.46 L 325.87 -309.51 L 323.93 -316.39 L 321.99 -294.17 L 320.05 -291.08 L 318.11 -306.3 L 316.17 -298.66 L 314.23 -311.33 L 312.29 -308.2 L 310.35 -308.19 L 308.41 -300.87 L 306.46 -291.39 L 304.52 -303.13 L 302.58 -307.87 L 300.64 -324.66 L 298.7 -303.99 L 296.76 -301.88 L 294.82 -310 L 292.88 -281.69 L 290.94 -296.8 L 289 -329.36 L 287.06 -319.22 L 285.11 -302.54 L 283.17 -316.61 L 281.23 -310.15 L 279.29 -303.7 L 277.35 -302.72 L 275.41 -290.87 L 273.47 -301.44 L 271.53 -301.65 L 269.59 -297.65 L 267.65 -306.65 L 265.71 -326.31 L 263.76 -318.44 L 261.82 -317.76 L 259.88 -307.7 L 257.94 -319.95 L 256 -304.04 L 254.06 -286.78 L 252.12 -310 L 250.18 -296.21 L 248.24 -305.53 L 246.3 -318.42 L 244.36 -316.22 L 242.41 -298.46 L 240.47 -308.4 L 238.53 -321.26 L 236.59 -298.68 L 234.65 -277.32 L 232.71 -289.48 L 230.77 -305.66 L 228.83 -296.3 L 226.89 -302.13 L 224.95 -316.42 L 223.01 -314.62 L 221.06 -296.7 L 219.12 -312.57 L 217.18 -308.35 L 215.24 -307.33 L 213.3 -288.37 L 211.36 -304.8 L 209.42 -297.14 L 207.48 -302.36 L 205.54 -303.81 L 203.6 -304.76 L 201.66 -325.13 L 199.72 -321.36 L 197.77 -307.82 L 195.83 -295.75 L 193.89 -314.25 L 191.95 -314.27 L 190.01 -310.5 L 188.07 -299.72 L 186.13 -338.11 L 184.19 -300.16 L 182.25 -307.37 L 180.31 -298.47 L 178.37 -288.62 L 176.42 -308.51 L 174.48 -274.13 L 172.54 -308.89 L 170.6 -313.44 L 168.66 -304.71 L 166.72 -302.43 L 164.78 -297.73 L 162.84 -287.63 L 160.9 -328.62 L 158.96 -317.79 L 157.02 -305.31 L 155.07 -299.02 L 153.13 -298.26 L 151.19 -295.83 L 149.25 -322.02 L 147.31 -312.3 L 145.37 -314.96 L 143.43 -298.49 L 141.49 -306.61 L 139.55 -308.89 L 137.61 -308.73 L 135.67 -312.53 L 133.72 -300 L 131.78 -317.77 L 129.84 -290.36 L 127.9 -279.24 L 125.96 -314.96 L 124.02 -288.62 L 122.08 -322.02 L 120.14 -291.28 L 118.2 -309.64 L 116.26 -311.92 L 114.32 -306.08 L 112.37 -305.85 L 110.43 -294.08 L 108.49 -308.98 L 106.55 -331.88 L 104.61 -303.56 L 102.67 -293.33 L 100.73 -297.73 L 98.79 -317.77 L 96.85 -298.49 L 94.91 -308.35 L 92.97 -290.67 L 91.02 -299.4 L 89.08 -300.54 L 87.14 -299.67 L 85.2 -292.57 L 83.26 -308.35 z" transform="translate(0 584.28)" style="fill: #2a2eec; fill-opacity: 0.25; stroke: #2a2eec; stroke-opacity: 0.25" />
    </g>
   </g>
   <g id="FillBetweenPolyCollection_5">
    <g clip-path="url(#p5c142148cd)">
     <path d="M 386.04 -329.97 L 386.04 -284.74 L 387.98 -258.8 L 389.92 -291.44 L 391.86 -284.08 L 393.81 -295.23 L 395.75 -283.88 L 397.69 -285.14 L 399.63 -301.68 L 401.57 -291.93 L 403.51 -261.68 L 405.45 -294.09 L 407.39 -284.83 L 409.33 -280.82 L 411.27 -284.12 L 413.21 -284.01 L 415.16 -277.73 L 417.1 -281.03 L 419.04 -283 L 420.98 -271.47 L 422.92 -286.55 L 424.86 -316.33 L 426.8 -290.68 L 428.74 -285.69 L 430.68 -287.3 L 432.62 -285.76 L 434.56 -277.92 L 436.51 -264.87 L 438.45 -289.92 L 440.39 -268.29 L 442.33 -292.19 L 444.27 -279.55 L 446.21 -294.8 L 448.15 -292.37 L 450.09 -299.78 L 452.03 -298.95 L 453.97 -297.23 L 455.91 -294.11 L 457.86 -268.89 L 459.8 -308.89 L 461.74 -281.05 L 463.68 -281.33 L 465.62 -261.07 L 467.56 -289.54 L 469.5 -272.9 L 471.44 -269.96 L 473.38 -269.8 L 475.32 -287.26 L 477.26 -274.36 L 479.21 -279.85 L 481.15 -272.84 L 483.09 -300 L 485.03 -303.96 L 485.03 -349.5 L 485.03 -349.5 L 483.09 -346.46 L 481.15 -318 L 479.21 -324.83 L 477.26 -319.14 L 475.32 -333.18 L 473.38 -312.31 L 471.44 -314.59 L 469.5 -316.86 L 467.56 -336.07 L 465.62 -307.75 L 463.68 -327.87 L 461.74 -325.21 L 459.8 -353.67 L 457.86 -315.34 L 455.91 -336.6 L 453.97 -341.91 L 452.03 -341.91 L 450.09 -344.57 L 448.15 -337.74 L 446.21 -340.39 L 444.27 -322.93 L 442.33 -338.87 L 440.39 -312.31 L 438.45 -335.08 L 436.51 -310.41 L 434.56 -321.42 L 432.62 -329.39 L 430.68 -332.8 L 428.74 -330.52 L 426.8 -335.46 L 424.86 -361.26 L 422.92 -331.28 L 420.98 -316.48 L 419.04 -330.37 L 417.1 -325.59 L 415.16 -324.83 L 413.21 -327.49 L 411.27 -329.61 L 409.33 -327.49 L 407.39 -329.77 L 405.45 -337.89 L 403.51 -308.13 L 401.57 -338.11 L 399.63 -345.33 L 397.69 -330.14 L 395.75 -329.39 L 393.81 -340.54 L 391.86 -327.87 L 389.92 -336.07 L 387.98 -305.39 L 386.04 -329.97 z" transform="translate(0 584.28)" style="fill: #fa7c17; fill-opacity: 0.25; stroke: #fa7c17; stroke-opacity: 0.25" />
    </g>
   </g>
   <g id="FillBetweenPolyCollection_6">
    <g clip-path="url(#p5c142148cd)">
     <path d="M 386.04 -282.24 L 386.04 -307.32 L 387.98 -281.34 L 389.92 -312.54 L 391.86 -306.39 L 393.81 -316.56 L 395.75 -306.39 L 397.69 -307.91 L 399.63 -322.48 L 401.57 -315.72 L 403.51 -285.29 L 405.45 -316.03 L 407.39 -306.62 L 409.33 -303.88 L 411.27 -307.22 L 413.21 -306.24 L 415.16 -302.59 L 417.1 -304.11 L 419.04 -307.6 L 420.98 -293.26 L 422.92 -308.51 L 424.86 -338.04 L 426.8 -313.83 L 428.74 -308.44 L 430.68 -310.03 L 432.62 -308.13 L 434.56 -298.65 L 436.51 -289.46 L 438.45 -313.37 L 440.39 -290.45 L 442.33 -315.65 L 444.27 -301.45 L 446.21 -317.24 L 448.15 -315.34 L 450.09 -321.72 L 452.03 -319.75 L 453.97 -318.76 L 455.91 -314.59 L 457.86 -291.74 L 459.8 -329.31 L 461.74 -302.59 L 463.68 -304.72 L 465.62 -285.14 L 467.56 -312.38 L 469.5 -295.23 L 471.44 -292.57 L 473.38 -290.52 L 475.32 -309.73 L 477.26 -297.58 L 479.21 -302.67 L 481.15 -294.62 L 483.09 -323.31 L 485.03 -326.05 L 485.03 -282.24 L 485.03 -282.24 L 483.09 -282.24 L 481.15 -282.24 L 479.21 -282.24 L 477.26 -282.24 L 475.32 -282.24 L 473.38 -282.24 L 471.44 -282.24 L 469.5 -282.24 L 467.56 -282.24 L 465.62 -282.24 L 463.68 -282.24 L 461.74 -282.24 L 459.8 -282.24 L 457.86 -282.24 L 455.91 -282.24 L 453.97 -282.24 L 452.03 -282.24 L 450.09 -282.24 L 448.15 -282.24 L 446.21 -282.24 L 444.27 -282.24 L 442.33 -282.24 L 440.39 -282.24 L 438.45 -282.24 L 436.51 -282.24 L 434.56 -282.24 L 432.62 -282.24 L 430.68 -282.24 L 428.74 -282.24 L 426.8 -282.24 L 424.86 -282.24 L 422.92 -282.24 L 420.98 -282.24 L 419.04 -282.24 L 417.1 -282.24 L 415.16 -282.24 L 413.21 -282.24 L 411.27 -282.24 L 409.33 -282.24 L 407.39 -282.24 L 405.45 -282.24 L 403.51 -282.24 L 401.57 -282.24 L 399.63 -282.24 L 397.69 -282.24 L 395.75 -282.24 L 393.81 -282.24 L 391.86 -282.24 L 389.92 -282.24 L 387.98 -282.24 L 386.04 -282.24 z" transform="translate(0 584.28)" style="fill: #2a2eec; fill-opacity: 0.25; stroke: #2a2eec; stroke-opacity: 0.25" />
    </g>
   </g>
   <g id="line2d_39">
    <path d="M 83.26 298.32 L 85.2 313.19 L 87.14 306.89 L 89.08 305 L 91.02 307.65 L 92.97 316.61 L 94.91 298.85 L 96.85 307.12 L 98.79 290.27 L 100.73 309.17 L 102.67 313.19 L 104.61 302.68 L 106.55 275.09 L 108.49 297.61 L 110.43 311.52 L 112.37 301.81 L 114.32 302.72 L 116.26 295.43 L 118.2 299.3 L 120.14 314.79 L 122.08 284.35 L 124.02 316.08 L 125.96 290.8 L 127.9 327.08 L 129.84 316 L 131.78 289.21 L 133.72 305.45 L 135.67 293.76 L 137.61 298.32 L 139.55 299.08 L 141.49 298.32 L 143.43 307.12 L 145.37 292.24 L 147.31 295.36 L 149.25 284.73 L 151.19 311.14 L 153.13 309.93 L 155.07 307.65 L 157.02 301.48 L 158.96 289.06 L 160.9 279.72 L 162.84 317.29 L 164.78 309.28 L 166.72 301.8 L 168.66 302.11 L 170.6 293 L 172.54 298.92 L 174.48 333.23 L 176.42 297.56 L 178.37 318.43 L 180.31 307.12 L 182.25 299.99 L 184.19 305.22 L 186.13 269.17 L 188.07 307.12 L 190.01 295.13 L 191.95 291.49 L 193.89 291.94 L 195.83 311.68 L 199.72 285.41 L 201.66 282.61 L 203.6 302.87 L 205.54 302.72 L 207.48 304.09 L 209.42 308.64 L 211.36 301.35 L 213.3 318.51 L 215.24 299.53 L 217.18 298.32 L 219.12 294.67 L 221.06 309.4 L 223.01 291.94 L 224.95 290.65 L 226.89 304.84 L 228.83 310.99 L 230.77 301.2 L 232.71 316.92 L 234.65 329.51 L 238.53 284.28 L 240.47 298.58 L 242.41 308.11 L 244.36 290.57 L 246.3 287.08 L 248.24 300.83 L 250.18 310.01 L 252.12 296.04 L 254.06 318.35 L 257.94 287.24 L 259.88 299.15 L 261.82 288.45 L 263.76 288.15 L 265.71 280.78 L 267.65 298.17 L 269.59 308.87 L 271.53 305.3 L 273.47 305.6 L 275.41 316.84 L 277.35 304.62 L 279.29 303.1 L 283.17 290.5 L 285.11 303.71 L 287.06 287.35 L 289 277.82 L 290.94 311.07 L 292.88 324.81 L 294.82 296.57 L 296.76 304.84 L 298.7 303.48 L 300.64 281.92 L 302.58 299.68 L 304.52 302.84 L 306.46 315.09 L 308.41 305.6 L 310.35 298.92 L 312.29 299.08 L 314.23 294.29 L 316.17 307.35 L 318.11 300.52 L 320.05 315.09 L 321.99 311.45 L 323.93 290.88 L 325.87 297.41 L 327.81 316.46 L 329.76 307.83 L 331.7 292.7 L 333.64 292.32 L 335.58 296.27 L 337.52 314.56 L 339.46 300.82 L 341.4 292.78 L 343.34 302.68 L 345.28 306.36 L 347.22 303.55 L 349.16 312.97 L 351.11 317.22 L 353.05 297.71 L 354.99 328.22 L 356.93 299.61 L 358.87 318.51 L 360.81 311.3 L 362.75 303.63 L 364.69 310.99 L 366.63 278.89 L 368.57 293.61 L 370.51 300.82 L 372.46 307.2 L 374.4 304.62 L 376.34 321.01 L 378.28 314.48 L 380.22 285.64 L 382.16 309.02 L 384.1 304.24 L 384.1 304.24" clip-path="url(#p5c142148cd)" style="fill: none; stroke: #2a2eec; stroke-width: 1.5; stroke-linecap: round" />
   </g>
   <g id="line2d_40">
    <path d="M 386.04 276.96 L 387.98 302.94 L 389.92 271.74 L 391.86 277.89 L 393.81 267.72 L 395.75 277.89 L 397.69 276.37 L 399.63 261.8 L 401.57 268.56 L 403.51 298.99 L 405.45 268.25 L 407.39 277.66 L 409.33 280.4 L 411.27 277.06 L 413.21 278.04 L 415.16 281.69 L 417.1 280.17 L 419.04 276.68 L 420.98 291.02 L 422.92 275.77 L 424.86 246.24 L 426.8 270.45 L 428.74 275.84 L 430.68 274.25 L 432.62 276.15 L 434.56 285.63 L 436.51 294.82 L 438.45 270.91 L 440.39 293.83 L 442.33 268.63 L 444.27 282.83 L 446.21 267.04 L 448.15 268.94 L 450.09 262.56 L 452.03 264.53 L 453.97 265.52 L 455.91 269.69 L 457.86 292.54 L 459.8 254.97 L 461.74 281.69 L 463.68 279.56 L 465.62 299.14 L 467.56 271.9 L 469.5 289.05 L 471.44 291.71 L 473.38 293.76 L 475.32 274.55 L 477.26 286.7 L 479.21 281.61 L 481.15 289.66 L 483.09 260.97 L 485.03 258.23" clip-path="url(#p5c142148cd)" style="fill: none; stroke: #fa7c17; stroke-width: 1.5; stroke-linecap: round" />
   </g>
   <g id="line2d_41">
    <path d="M 63.1728 302.04 L 505.116 302.04" clip-path="url(#p5c142148cd)" style="fill: none; stroke: #000000; stroke-width: 1.5; stroke-linecap: round" />
   </g>
   <g id="line2d_42">
    <path d="M 385.92 362.448 L 385.92 216.432" clip-path="url(#p5c142148cd)" style="fill: none; stroke: #ff0000; stroke-width: 3; stroke-linecap: round" />
   </g>
   <g id="patch_11">
    <path d="M 63.1728 362.448 L 63.1728 216.432" style="fill: none" />
   </g>
   <g id="patch_12">
    <path d="M 505.116 362.448 L 505.116 216.432" style="fill: none" />
   </g>
   <g id="patch_13">
    <path d="M 63.1728 362.448 L 505.116 362.448" style="fill: none" />
   </g>
   <g id="patch_14">
    <path d="M 63.1728 216.432 L 505.116 216.432" style="fill: none" />
   </g>
   <g id="text_13">
    <text style="font-size: 16px; font-family: 'DejaVu Sans', sans-serif; text-anchor: middle; fill: #262626" x="284.1444" y="210.432">Causal Impact</text>
   </g>
  </g>
  <g id="axes_3">
   <g id="patch_15">
    <path d="M 63 537.84 L 505.08 537.84 L 505.08 392.04 L 63 392.04 z" style="fill: #eeeeee" />
   </g>
   <g id="matplotlib.axis_5">
    <g id="xtick_11">
     <g id="line2d_43">
      <path d="M 81.72 537.84 L 81.72 391.968" clip-path="url(#p30a68db686)" style="fill: none; stroke: #ffffff; stroke-width: 0.8; stroke-linecap: round" />
     </g>
     <g id="line2d_44" />
     <g id="text_14">
      <text style="font-size: 14px; font-family: 'DejaVu Sans', sans-serif; fill: #262626" transform="translate(79.416 540.98) rotate(90)">2019</text>
     </g>
    </g>
    <g id="xtick_12">
     <g id="line2d_45">
      <path d="M 183.24 537.84 L 183.24 391.968" clip-path="url(#p30a68db686)" style="fill: none; stroke: #ffffff; stroke-width: 0.8; stroke-linecap: round" />
     </g>
     <g id="line2d_46" />
     <g id="text_15">
      <text style="font-size: 14px; font-family: 'DejaVu Sans', sans-serif; fill: #262626" transform="translate(180.62 540.98) rotate(90)">2020</text>
     </g>
    </g>
    <g id="xtick_13">
     <g id="line2d_47">
      <path d="M 284.4 537.84 L 284.4 391.968" clip-path="url(#p30a68db686)" style="fill: none; stroke: #ffffff; stroke-width: 0.8; stroke-linecap: round" />
     </g>
     <g id="line2d_48" />
     <g id="text_16">
      <text style="font-size: 14px; font-family: 'DejaVu Sans', sans-serif; fill: #262626" transform="translate(282.101 540.98) rotate(90)">2021</text>
     </g>
    </g>
    <g id="xtick_14">
     <g id="line2d_49">
      <path d="M 385.92 537.84 L 385.92 391.968" clip-path="url(#p30a68db686)" style="fill: none; stroke: #ffffff; stroke-width: 0.8; stroke-linecap: round" />
     </g>
     <g id="line2d_50" />
     <g id="text_17">
      <text style="font-size: 14px; font-family: 'DejaVu Sans', sans-serif; fill: #262626" transform="translate(383.305 540.98) rotate(90)">2022</text>
     </g>
    </g>
    <g id="xtick_15">
     <g id="line2d_51">
      <path d="M 487.08 537.84 L 487.08 391.968" clip-path="url(#p30a68db686)" style="fill: none; stroke: #ffffff; stroke-width: 0.8; stroke-linecap: round" />
     </g>
     <g id="line2d_52" />
     <g id="text_18">
      <text style="font-size: 14px; font-family: 'DejaVu Sans', sans-serif; fill: #262626" transform="translate(484.509 540.98) rotate(90)">2023</text>
     </g>
    </g>
   </g>
   <g id="matplotlib.axis_6">
    <g id="ytick_6">
     <g id="line2d_53">
      <path d="M 63.1728 531.72 L 505.116 531.72" clip-path="url(#p30a68db686)" style="fill: none; stroke: #ffffff; stroke-width: 0.8; stroke-linecap: round" />
     </g>
     <g id="line2d_54" />
     <g id="text_19">
      <text style="font-size: 14px; font-family: 'DejaVu Sans', sans-serif; text-anchor: end; fill: #262626" x="59.6728" y="537.038906">0</text>
     </g>
    </g>
    <g id="ytick_7">
     <g id="line2d_55">
      <path d="M 63.1728 480.24 L 505.116 480.24" clip-path="url(#p30a68db686)" style="fill: none; stroke: #ffffff; stroke-width: 0.8; stroke-linecap: round" />
     </g>
     <g id="line2d_56" />
     <g id="text_20">
      <text style="font-size: 14px; font-family: 'DejaVu Sans', sans-serif; text-anchor: end; fill: #262626" x="59.6728" y="485.558906">5</text>
     </g>
    </g>
    <g id="ytick_8">
     <g id="line2d_57">
      <path d="M 63.1728 428.76 L 505.116 428.76" clip-path="url(#p30a68db686)" style="fill: none; stroke: #ffffff; stroke-width: 0.8; stroke-linecap: round" />
     </g>
     <g id="line2d_58" />
     <g id="text_21">
      <text style="font-size: 14px; font-family: 'DejaVu Sans', sans-serif; text-anchor: end; fill: #262626" x="59.6728" y="434.078906">10</text>
     </g>
    </g>
    <g id="text_22">
     <text style="font-size: 15px; font-family: 'DejaVu Sans', sans-serif; text-anchor: middle; fill: #262626" x="34.738" y="465.408" transform="rotate(-90 34.738 465.408)">Sales (thousands)</text>
    </g>
   </g>
   <g id="FillBetweenPolyCollection_7">
    <g clip-path="url(#p30a68db686)">
     <path d="M 386.04 -57.84 L 386.04 -53.27 L 387.98 -52.23 L 389.92 -54.12 L 391.86 -55.7 L 393.81 -58.34 L 395.75 -59.72 L 397.69 -61.53 L 399.63 -65.19 L 401.57 -67.58 L 403.51 -67.16 L 405.45 -70.08 L 407.39 -72.02 L 409.33 -73.7 L 411.27 -75.69 L 413.21 -77.49 L 415.16 -79.09 L 417.1 -80.54 L 419.04 -82.76 L 420.98 -83.49 L 422.92 -85.75 L 424.86 -90.28 L 426.8 -93.05 L 428.74 -95.01 L 430.68 -97 L 432.62 -99.25 L 434.56 -100.46 L 436.51 -100.92 L 438.45 -103.57 L 440.39 -104.13 L 442.33 -106.97 L 444.27 -108.22 L 446.21 -111.63 L 448.15 -113.78 L 450.09 -117.47 L 452.03 -120.86 L 453.97 -123.88 L 455.91 -126.65 L 457.86 -127.09 L 459.8 -131.38 L 461.74 -132.5 L 463.68 -134.89 L 465.62 -135.41 L 467.56 -137.5 L 469.5 -138.88 L 471.44 -139.04 L 473.38 -139.28 L 475.32 -141.7 L 477.26 -143.54 L 479.21 -145.03 L 481.15 -145.17 L 483.09 -149.17 L 485.03 -153.05 L 485.03 -186.12 L 485.03 -186.12 L 483.09 -181.99 L 481.15 -177.86 L 479.21 -176.82 L 477.26 -174.15 L 475.32 -173.63 L 473.38 -170.57 L 471.44 -169.81 L 469.5 -168.67 L 467.56 -167.22 L 465.62 -164.32 L 463.68 -163.64 L 461.74 -161.07 L 459.8 -160.17 L 457.86 -154.89 L 455.91 -154.27 L 453.97 -150.94 L 452.03 -147.53 L 450.09 -144.47 L 448.15 -140.64 L 446.21 -136.94 L 444.27 -134.18 L 442.33 -132.42 L 440.39 -128.86 L 438.45 -127.64 L 436.51 -124.95 L 434.56 -123.39 L 432.62 -122.05 L 430.68 -119.31 L 428.74 -116.67 L 426.8 -114.24 L 424.86 -111.42 L 422.92 -106.15 L 420.98 -103.21 L 419.04 -101.94 L 417.1 -99.73 L 415.16 -97.22 L 413.21 -95.03 L 411.27 -92.53 L 409.33 -90.35 L 407.39 -88.28 L 405.45 -85.39 L 403.51 -81.79 L 401.57 -81.31 L 399.63 -77.84 L 397.69 -73.87 L 395.75 -71.26 L 393.81 -68.47 L 391.86 -64.7 L 389.92 -62.24 L 387.98 -58.66 L 386.04 -57.84 z" transform="translate(0 584.28)" style="fill: #fa7c17; fill-opacity: 0.25; stroke: #fa7c17; stroke-opacity: 0.25" />
    </g>
   </g>
   <g id="line2d_59">
    <path d="M 386.04 528.74 L 387.98 528.82 L 389.92 526.1 L 391.86 523.93 L 393.81 520.84 L 395.75 518.67 L 397.69 516.36 L 399.63 512.74 L 401.57 509.73 L 403.51 509.46 L 405.45 506.42 L 407.39 504.23 L 409.33 502.28 L 411.27 500.03 L 413.21 497.87 L 415.16 496.04 L 417.1 494.08 L 419.04 491.8 L 420.98 490.81 L 422.92 488.44 L 424.86 483.42 L 426.8 480.58 L 428.74 478.23 L 430.68 475.73 L 432.62 473.4 L 434.56 471.92 L 436.51 471.27 L 438.45 468.47 L 440.39 467.74 L 442.33 464.73 L 444.27 463 L 446.21 459.86 L 448.15 456.88 L 450.09 453.33 L 452.03 449.95 L 453.97 446.67 L 455.91 443.76 L 457.86 442.91 L 459.8 438.67 L 461.74 436.84 L 463.68 434.82 L 465.62 434.56 L 467.56 431.85 L 469.5 430.68 L 471.44 429.75 L 473.38 429.01 L 475.32 426.53 L 477.26 425.15 L 479.21 423.32 L 481.15 422.2 L 483.09 418.51 L 485.03 414.57" clip-path="url(#p30a68db686)" style="fill: none; stroke: #fa7c17; stroke-width: 1.5; stroke-linecap: round" />
   </g>
   <g id="line2d_60">
    <path d="M 63.1728 531.72 L 505.116 531.72" clip-path="url(#p30a68db686)" style="fill: none; stroke: #000000; stroke-width: 1.5; stroke-linecap: round" />
   </g>
   <g id="line2d_61">
    <path d="M 385.92 537.84 L 385.92 391.968" clip-path="url(#p30a68db686)" style="fill: none; stroke: #ff0000; stroke-width: 3; stroke-linecap: round" />
   </g>
   <g id="patch_16">
    <path d="M 63.1728 537.84 L 63.1728 391.968" style="fill: none" />
   </g>
   <g id="patch_17">
    <path d="M 505.116 537.84 L 505.116 391.968" style="fill: none" />
   </g>
   <g id="patch_18">
    <path d="M 63.1728 537.84 L 505.116 537.84" style="fill: none" />
   </g>
   <g id="patch_19">
    <path d="M 63.1728 391.968 L 505.116 391.968" style="fill: none" />
   </g>
   <g id="text_23">
    <text style="font-size: 16px; font-family: 'DejaVu Sans', sans-serif; text-anchor: middle; fill: #262626" x="284.1444" y="385.968">Cumulative Causal Impact</text>
   </g>
  </g>
  <g id="text_24">
   <text style="font-size: 12px; font-family: 'DejaVu Sans', sans-serif; text-anchor: middle; fill: #262626" x="255.96" y="16.56">Causal impact for t1</text>
  </g>
 </g>
 <defs>
  <clipPath id="pec3af57a32">
   <rect x="63" y="46.44" width="442.08" height="145.8" />
  </clipPath>
  <clipPath id="p5c142148cd">
   <rect x="63" y="216.36" width="442.08" height="146.16" />
  </clipPath>
  <clipPath id="p30a68db686">
   <rect x="63" y="392.04" width="442.08" height="145.8" />
  </clipPath>
 </defs>
</svg>
</body>
</html>
